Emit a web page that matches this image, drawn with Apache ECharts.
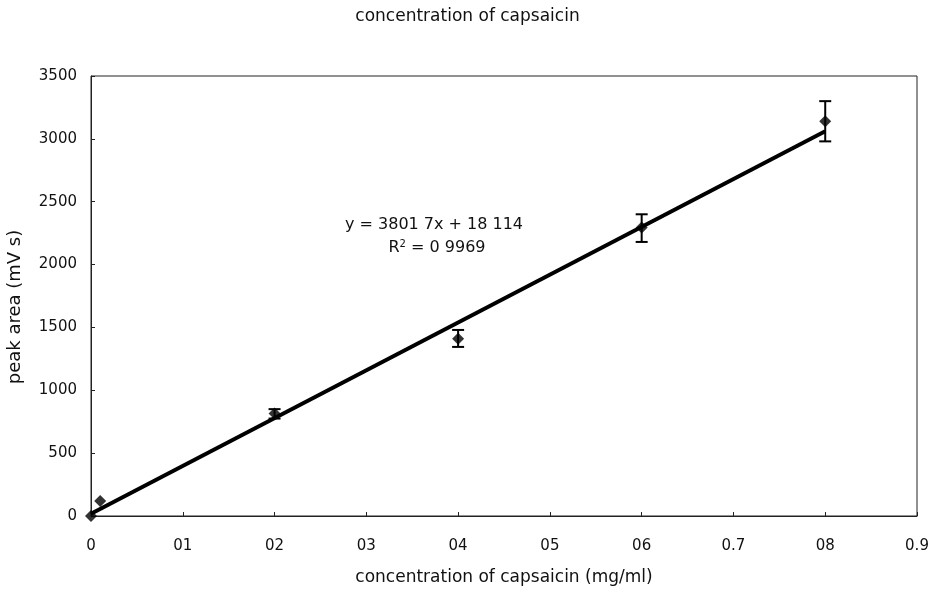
<!DOCTYPE html>
<html>
<head>
<meta charset="utf-8">
<script src="https://cdn.jsdelivr.net/npm/echarts@6/dist/echarts.min.js"></script>
<style>
  html, body { margin: 0; padding: 0; background: #fff; }
  #chart { width: 935px; height: 591px; }
</style>
</head>
<body>
<div id="chart"></div>
<script>
// measured points (concentration mg/ml, peak area mV s)
const conc = [0, 0.01, 0.2, 0.4, 0.6, 0.8]
const peakArea = [0, 120, 815, 1410, 2295, 3140]
const errLow = [0, 120, 775, 1345, 2180, 2980]
const errHigh = [0, 120, 850, 1480, 2400, 3300]

// linear trendline endpoints
const trendX = [0, 0.8]
const trendY = [18, 3060]

const xTickLabels = ['0', '01', '02', '03', '04', '05', '06', '0.7', '08', '0.9']
const equationText = 'y = 3801 7x + 18 114'
const r2Text = '0 9969'

const font = 'DejaVu Sans, Verdana, sans-serif'

const chart = echarts.init(document.getElementById('chart'))

const errData = conc.map((x, i) => [x, errLow[i], errHigh[i]]).filter(d => d[1] !== d[2])

chart.setOption({
  animation: false,
  title: {
    text: 'concentration of capsaicin',
    left: 'center', top: 3,
    textStyle: { fontFamily: font, fontSize: 17, fontWeight: 'normal', color: '#111' }
  },
  grid: {
    left: 91, right: 18, top: 76, bottom: 75,
    outerBoundsMode: 'none',
    show: true, borderColor: '#222', borderWidth: 1
  },
  xAxis: {
    type: 'value', min: 0, max: 0.9, interval: 0.1,
    name: 'concentration of capsaicin (mg/ml)',
    nameLocation: 'middle', nameGap: 53,
    nameTextStyle: { fontFamily: font, fontSize: 17, color: '#111' },
    axisLine: { show: true, lineStyle: { color: '#222', width: 1 } },
    axisTick: { show: true, inside: true, length: 4, lineStyle: { color: '#222' } },
    splitLine: { show: false },
    axisLabel: {
      fontFamily: font, fontSize: 15, color: '#111', margin: 23,
      formatter: (v) => xTickLabels[Math.round(v * 10)]
    }
  },
  yAxis: {
    type: 'value', min: 0, max: 3500, interval: 500,
    name: 'peak area (mV s)',
    nameLocation: 'middle', nameGap: 67,
    nameTextStyle: { fontFamily: font, fontSize: 18, color: '#111', padding: [0, 22, 0, 0] },
    axisLine: { show: true, lineStyle: { color: '#222', width: 1 } },
    axisTick: { show: true, inside: true, length: 4, lineStyle: { color: '#222' } },
    splitLine: { show: false },
    axisLabel: { fontFamily: font, fontSize: 15, color: '#111', margin: 14, formatter: (v) => String(v) }
  },
  graphic: [
    {
      type: 'text', x: 434, y: 225,
      style: {
        text: equationText, fontFamily: font, fontSize: 16, fill: '#111',
        textAlign: 'center', textVerticalAlign: 'middle'
      }
    },
    {
      type: 'text', x: 437, y: 248,
      style: {
        text: 'R{s|2} = ' + r2Text,
        fontFamily: font, fontSize: 16, fill: '#111',
        textAlign: 'center', textVerticalAlign: 'middle',
        rich: { s: { fontSize: 10, verticalAlign: 'top', padding: [0, 0, 8, 0], fontFamily: font, fill: '#111' } }
      }
    }
  ],
  series: [
    {
      type: 'line',
      data: trendX.map((x, i) => [x, trendY[i]]),
      showSymbol: false,
      lineStyle: { color: '#000', width: 4 },
      z: 2
    },
    {
      type: 'custom',
      data: errData,
      renderItem: (params, api) => {
        const x = api.value(0)
        const lo = api.coord([x, api.value(1)])
        const hi = api.coord([x, api.value(2)])
        const w = 6
        const style = { stroke: '#000', lineWidth: 2 }
        return {
          type: 'group',
          children: [
            { type: 'line', shape: { x1: lo[0], y1: lo[1], x2: hi[0], y2: hi[1] }, style },
            { type: 'line', shape: { x1: lo[0] - w, y1: lo[1], x2: lo[0] + w, y2: lo[1] }, style },
            { type: 'line', shape: { x1: hi[0] - w, y1: hi[1], x2: hi[0] + w, y2: hi[1] }, style }
          ]
        }
      },
      z: 3
    },
    {
      type: 'scatter',
      data: conc.map((x, i) => [x, peakArea[i]]),
      symbol: 'diamond',
      symbolSize: 12,
      itemStyle: { color: '#000' },
      z: 4
    }
  ]
})
</script>
</body>
</html>
